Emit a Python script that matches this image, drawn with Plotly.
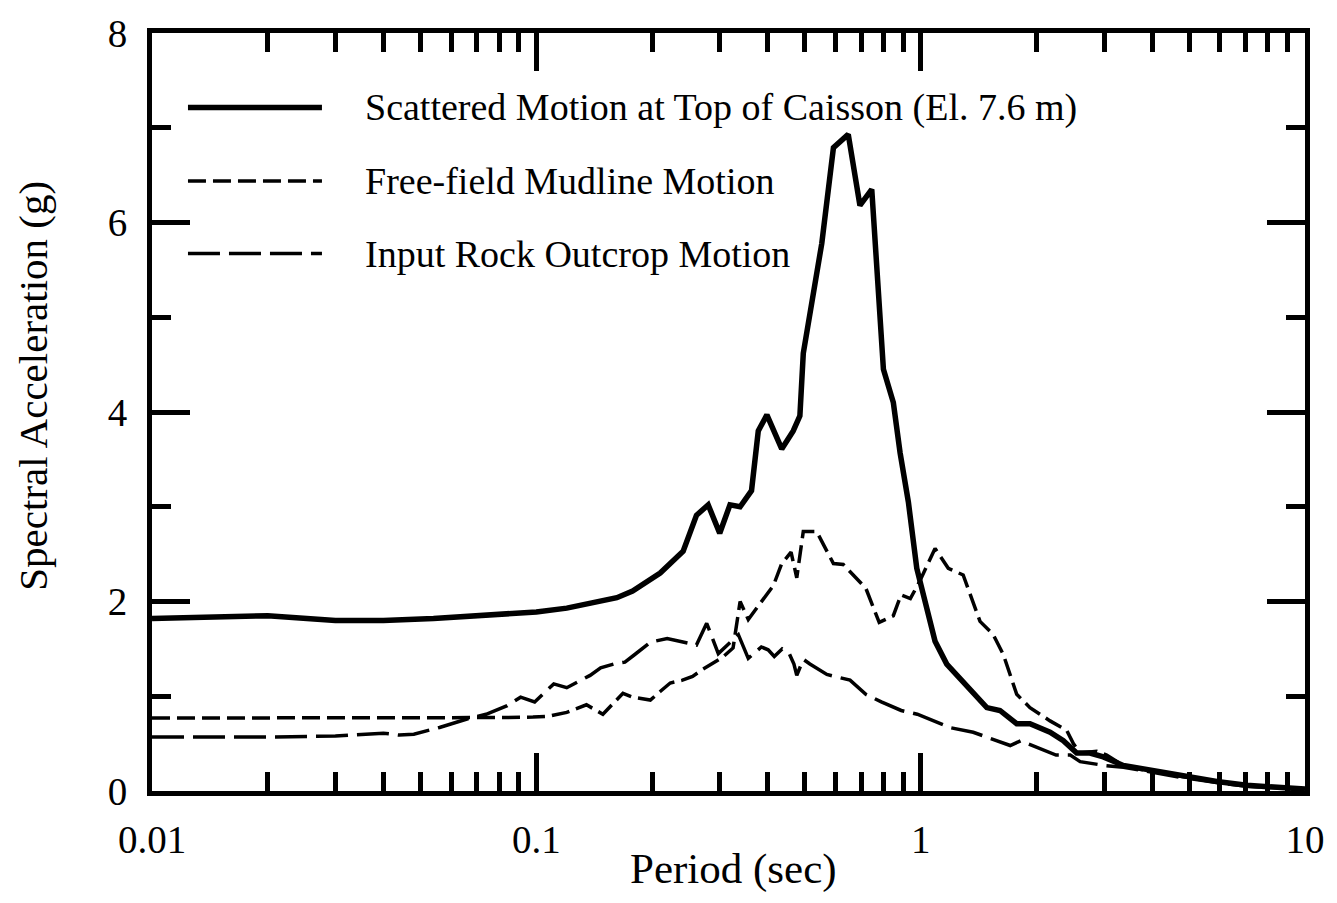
import plotly.graph_objects as go

# Response spectra (5% damping): period in seconds, spectral acceleration in g
period_top = [0.01, 0.02, 0.03, 0.04, 0.054, 0.066, 0.089, 0.10, 0.12, 0.14, 0.162, 0.178,
              0.198, 0.21, 0.241, 0.261, 0.28, 0.30, 0.319, 0.339, 0.363, 0.378, 0.398,
              0.435, 0.466, 0.485, 0.495, 0.526, 0.553, 0.593, 0.648, 0.695, 0.746, 0.80,
              0.849, 0.884, 0.929, 0.977, 1.037, 1.09, 1.169, 1.279, 1.371, 1.486, 1.608,
              1.778, 1.925, 2.171, 2.351, 2.547, 2.757, 2.987, 3.367, 3.722, 4.196, 4.824,
              5.893, 7.053, 10.0]
sa_top = [1.82, 1.85, 1.80, 1.80, 1.82, 1.84, 1.87, 1.89, 1.93, 1.98, 2.04, 2.11,
          2.23, 2.30, 2.53, 2.91, 3.02, 2.72, 3.02, 3.00, 3.17, 3.80, 3.97,
          3.61, 3.80, 3.96, 4.62, 5.25, 5.78, 6.79, 6.93, 6.18, 6.35, 4.45,
          4.10, 3.57, 3.05, 2.35, 1.90, 1.58, 1.34, 1.16, 1.02, 0.88, 0.85,
          0.71, 0.71, 0.62, 0.53, 0.40, 0.40, 0.36, 0.27, 0.24, 0.19, 0.15,
          0.10, 0.06, 0.02]

period_mud = [0.01, 0.02, 0.04, 0.06, 0.08, 0.098, 0.108, 0.12, 0.135, 0.149, 0.168, 0.178,
              0.198, 0.21, 0.223, 0.24, 0.255, 0.27, 0.288, 0.306, 0.325, 0.339, 0.356,
              0.389, 0.414, 0.435, 0.46, 0.476, 0.495, 0.536, 0.593, 0.629, 0.72, 0.78,
              0.849, 0.889, 0.94, 0.996, 1.09, 1.18, 1.29, 1.427, 1.545, 1.641, 1.778,
              1.925, 2.171, 2.399, 2.496, 2.598, 2.871, 3.048, 3.367, 3.722, 4.196, 4.824,
              5.893, 7.053, 10.0]
sa_mud = [0.77, 0.77, 0.77, 0.77, 0.775, 0.78, 0.79, 0.83, 0.91, 0.81, 1.03, 0.99,
          0.96, 1.05, 1.14, 1.17, 1.21, 1.28, 1.355, 1.415, 1.51, 2.00, 1.81,
          2.02, 2.17, 2.40, 2.52, 2.25, 2.74, 2.74, 2.40, 2.39, 2.14, 1.78,
          1.85, 2.07, 2.03, 2.22, 2.56, 2.35, 2.28, 1.79, 1.65, 1.44, 1.02,
          0.88, 0.74, 0.64, 0.50, 0.40, 0.42, 0.38, 0.27, 0.23, 0.19, 0.15,
          0.10, 0.06, 0.02]

period_rock = [0.01, 0.02, 0.03, 0.04, 0.044, 0.048, 0.056, 0.066, 0.074, 0.084, 0.091, 0.099,
               0.111, 0.12, 0.138, 0.147, 0.159, 0.17, 0.179, 0.198, 0.219, 0.246, 0.261,
               0.2775, 0.2975, 0.3355, 0.356, 0.385, 0.401, 0.416, 0.436, 0.455, 0.468,
               0.476, 0.495, 0.515, 0.57, 0.655, 0.72, 0.79, 0.89, 0.98, 1.19, 1.37, 1.54,
               1.71, 1.82, 2.04, 2.25, 2.45, 2.6, 3.0, 3.37, 3.72, 4.2, 4.82, 5.89, 7.05, 10.0]
sa_rock = [0.57, 0.57, 0.58, 0.61, 0.59, 0.60, 0.67, 0.76, 0.81, 0.90, 0.99, 0.94,
           1.13, 1.09, 1.22, 1.30, 1.34, 1.36, 1.43, 1.57, 1.61, 1.56, 1.54,
           1.77, 1.45, 1.65, 1.40, 1.52, 1.49, 1.42, 1.50, 1.45, 1.34,
           1.22, 1.39, 1.34, 1.23, 1.17, 1.02, 0.94, 0.85, 0.81, 0.67, 0.62, 0.55,
           0.48, 0.53, 0.45, 0.38, 0.38, 0.31, 0.27, 0.25, 0.22, 0.18, 0.14, 0.09, 0.05, 0.02]

series_names = ["Scattered Motion at Top of Caisson (El. 7.6 m)",
                "Free-field Mudline Motion",
                "Input Rock Outcrop Motion"]

x_major = [0.01, 0.1, 1, 10]
x_major_text = ["0.01", "0.1", "1", "10"]
x_minor = [m * d for d in (0.01, 0.1, 1) for m in range(2, 10)]
y_major = [0, 2, 4, 6, 8]
y_minor = [1, 3, 5, 7]

FONT = "Liberation Serif"
solid_style = dict(color="black", width=5.5)
mud_style = dict(color="black", width=3.5, dash="18px,7px")
rock_style = dict(color="black", width=3.5, dash="32px,9px")

fig = go.Figure()
fig.add_trace(go.Scatter(x=period_top, y=sa_top, mode="lines", line=solid_style,
                         name=series_names[0], showlegend=False))
fig.add_trace(go.Scatter(x=period_mud, y=sa_mud, mode="lines", line=mud_style,
                         name=series_names[1], showlegend=False))
fig.add_trace(go.Scatter(x=period_rock, y=sa_rock, mode="lines", line=rock_style,
                         name=series_names[2], showlegend=False))

# Key drawn inside the upper-left of the frame
key_rows = [0.9017, 0.8047, 0.709]
key_styles = [solid_style, mud_style, rock_style]
for yk, st, label in zip(key_rows, key_styles, series_names):
    fig.add_shape(type="line", xref="paper", yref="paper", x0=0.0312, x1=0.1474,
                  y0=yk, y1=yk, line=st)
    fig.add_annotation(xref="paper", yref="paper", x=0.183, y=yk, text=label,
                       showarrow=False, xanchor="left", yanchor="middle",
                       font=dict(family=FONT, size=38, color="black"))

axis_common = dict(showline=True, linewidth=5, linecolor="black", mirror="allticks",
                   ticks="inside", tickwidth=5, tickcolor="black", ticklen=38,
                   showgrid=False, zeroline=False,
                   tickfont=dict(family=FONT, size=39, color="black"))

fig.update_xaxes(type="log", range=[-2, 1], tickmode="array", tickvals=x_major,
                 ticktext=x_major_text, ticklabelstandoff=10,
                 minor=dict(tickmode="array", tickvals=x_minor, ticks="inside",
                            ticklen=19, tickwidth=5, tickcolor="black"),
                 **axis_common)
fig.update_yaxes(range=[0, 8], tickmode="array", tickvals=y_major,
                 ticklabelstandoff=12,
                 minor=dict(tickmode="array", tickvals=y_minor, ticks="inside",
                            ticklen=19, tickwidth=5, tickcolor="black"),
                 **axis_common)

fig.add_annotation(xref="paper", yref="paper", x=0.504, y=-0.1035, text="Period (sec)",
                   showarrow=False, xanchor="center", yanchor="middle",
                   font=dict(family=FONT, size=43, color="black"))
fig.add_annotation(xref="paper", yref="paper", x=-0.1032, y=0.5347,
                   text="Spectral Acceleration (g)", textangle=-90,
                   showarrow=False, xanchor="center", yanchor="middle",
                   font=dict(family=FONT, size=41, color="black"))

fig.update_layout(width=1337, height=903,
                  margin=dict(l=152, r=32, t=28, b=112),
                  paper_bgcolor="white", plot_bgcolor="white",
                  showlegend=False)

fig.write_html("out.html")
